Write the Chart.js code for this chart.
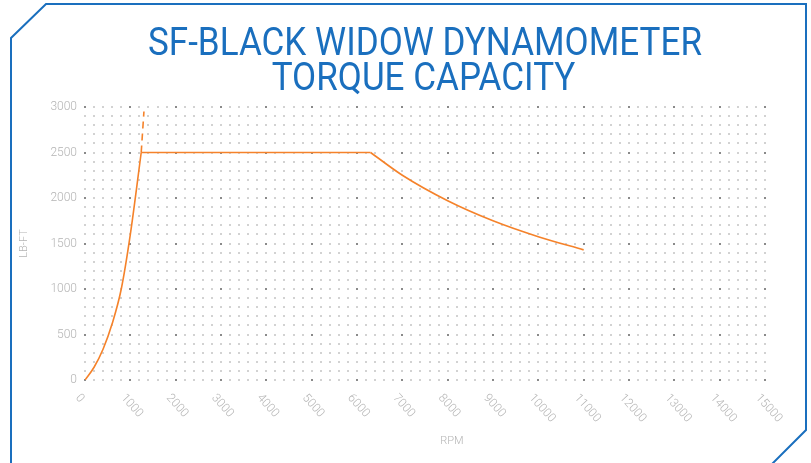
<!DOCTYPE html>
<html>
<head>
<meta charset="utf-8">
<script src="https://cdn.jsdelivr.net/npm/chart.js@4/dist/chart.umd.min.js"></script>
<style>
  html, body { margin: 0; padding: 0; background: #fff; }
  #wrap { width: 811px; height: 463px; }
</style>
</head>
<body>
<div id="wrap"><canvas id="torqueChart" width="811" height="463"></canvas></div>
<script>
// Torque capacity data (RPM vs LB-FT)
var titleLines = ['SF-BLACK WIDOW DYNAMOMETER', 'TORQUE CAPACITY'];

var riseRpm    = [0, 200, 400, 600, 800, 1000, 1240];
var riseTorque = [0, 140, 340, 620, 1000, 1600, 2500];

var flatRpm    = [1240, 6300];
var flatTorque = [2500, 2500];

var fallRpm    = [6300, 7000, 8000, 9000, 10000, 11000];
var fallTorque = [2500, 2250, 1970, 1750, 1575, 1430];

var dashRpm    = [1240, 1300];
var dashTorque = [2500, 2950];

var xTicks = [0, 1000, 2000, 3000, 4000, 5000, 6000, 7000, 8000, 9000, 10000, 11000, 12000, 13000, 14000, 15000];
var yTicks = [0, 500, 1000, 1500, 2000, 2500, 3000];

var orange = '#f5822a';
var blue = '#1a6fbe';
var grey = '#b4b4b4';

function pts(xs, ys) {
  return xs.map(function(x, i) { return {x: x, y: ys[i]}; });
}

// dotted grid, frame, title and rotated x labels
var decor = {
  id: 'decor',
  beforeDatasetsDraw: function(chart) {
    var ctx = chart.ctx, xs = chart.scales.x, ys = chart.scales.y;
    ctx.save();
    for (var r = 0; r <= 15000; r += 200) {
      for (var t = 0; t <= 3000; t += 100) {
        var major = (r % 1000 === 0) && (t % 500 === 0);
        ctx.fillStyle = major ? '#8a8a8a' : '#d2d2d2';
        var px = Math.round(xs.getPixelForValue(r));
        var py = Math.round(ys.getPixelForValue(t));
        ctx.fillRect(px - 1, py - 1, 2, 2);
      }
    }
    ctx.restore();
  },
  afterDraw: function(chart) {
    var ctx = chart.ctx, xs = chart.scales.x, ys = chart.scales.y;
    ctx.save();

    // frame with cut corners
    ctx.strokeStyle = blue;
    ctx.lineWidth = 2;
    ctx.beginPath();
    ctx.moveTo(11, 470);
    ctx.lineTo(11, 38);
    ctx.lineTo(46, 4);
    ctx.lineTo(806, 4);
    ctx.lineTo(806, 430);
    ctx.lineTo(772, 464);
    ctx.stroke();

    // title, squeezed to a condensed look
    ctx.fillStyle = blue;
    ctx.font = '400 39px Roboto';
    ctx.textAlign = 'center';
    ctx.textBaseline = 'alphabetic';
    var squeeze = 554 / ctx.measureText(titleLines[0]).width;
    var centers = [425, 423.5], bases = [55, 90];
    titleLines.forEach(function(line, i) {
      ctx.save();
      ctx.translate(centers[i], bases[i]);
      ctx.scale(squeeze, 1);
      ctx.fillText(line, 0, 0);
      ctx.restore();
    });

    // x tick labels, rotated clockwise
    ctx.fillStyle = grey;
    ctx.font = '300 12px Roboto';
    ctx.textAlign = 'left';
    ctx.textBaseline = 'top';
    xTicks.forEach(function(v) {
      ctx.save();
      ctx.translate(xs.getPixelForValue(v) - 3, ys.bottom + 12);
      ctx.rotate(48 * Math.PI / 180);
      ctx.fillText(String(v), 0, 0);
      ctx.restore();
    });

    // x axis title
    ctx.font = '300 11px Roboto';
    ctx.textAlign = 'center';
    ctx.textBaseline = 'middle';
    ctx.fillText('RPM', 452, 441);
    ctx.restore();
  }
};

var ctx = document.getElementById('torqueChart').getContext('2d');
var torqueChart = new Chart(ctx, {
  type: 'line',
  data: {
    datasets: [
      {
        data: pts(riseRpm, riseTorque),
        borderColor: orange,
        borderWidth: 1.6,
        pointRadius: 0,
        cubicInterpolationMode: 'monotone'
      },
      {
        data: pts(flatRpm, flatTorque),
        borderColor: orange,
        borderWidth: 1.6,
        pointRadius: 0
      },
      {
        data: pts(fallRpm, fallTorque),
        borderColor: orange,
        borderWidth: 1.6,
        pointRadius: 0,
        cubicInterpolationMode: 'monotone'
      },
      {
        data: pts(dashRpm, dashTorque),
        borderColor: orange,
        borderWidth: 1.6,
        borderDash: [7, 5],
        pointRadius: 0
      }
    ]
  },
  options: {
    responsive: false,
    animation: false,
    devicePixelRatio: 1,
    layout: {
      padding: { top: 107, right: 46, left: 0, bottom: 0 }
    },
    plugins: {
      legend: { display: false },
      tooltip: { enabled: false }
    },
    scales: {
      x: {
        type: 'linear',
        min: 0,
        max: 15000,
        grid: { display: false, drawTicks: false },
        border: { display: false },
        ticks: { display: false, stepSize: 1000 },
        afterFit: function(s) { s.height = 83; }
      },
      y: {
        type: 'linear',
        min: 0,
        max: 3000,
        grid: { display: false, drawTicks: false },
        border: { display: false },
        afterBuildTicks: function(s) {
          s.ticks = yTicks.map(function(v) { return {value: v}; });
        },
        ticks: {
          padding: 8,
          color: grey,
          font: { family: 'Roboto', size: 12, weight: '300' },
          callback: function(v) { return String(v); }
        },
        title: {
          display: true,
          text: 'LB-FT',
          color: grey,
          padding: { top: 18, bottom: 0 },
          font: { family: 'Roboto', size: 11, weight: '300' }
        },
        afterFit: function(s) { s.width = 85; }
      }
    }
  },
  plugins: [decor]
});
</script>
</body>
</html>
